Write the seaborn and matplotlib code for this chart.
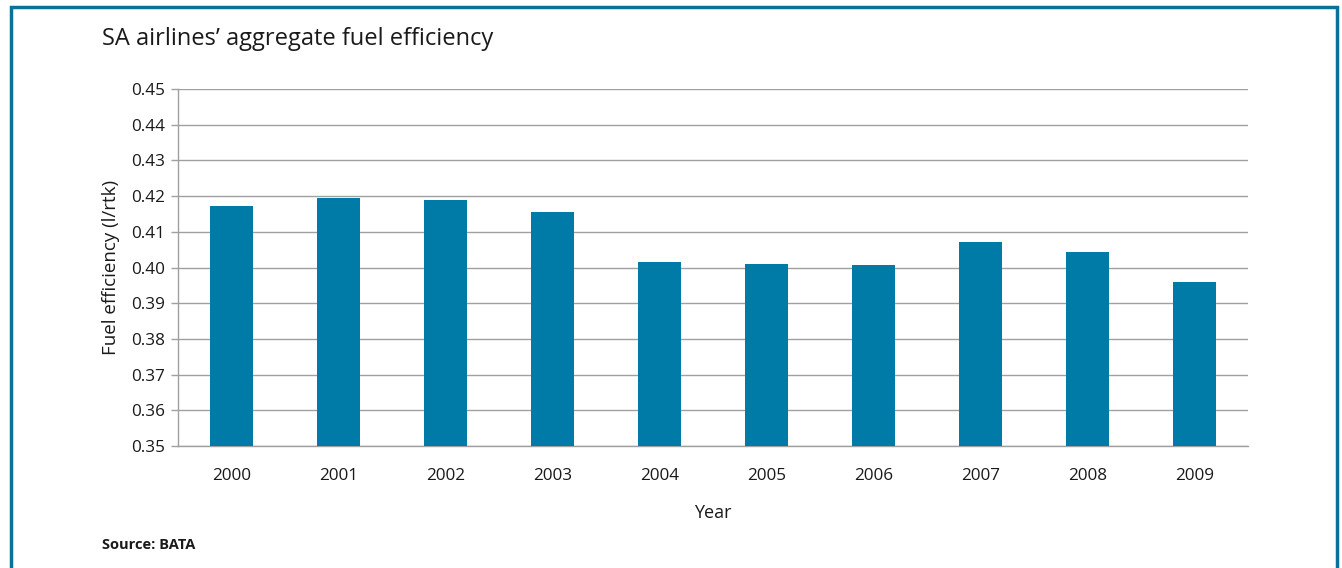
import matplotlib
matplotlib.use("Agg")
import matplotlib.pyplot as plt
from matplotlib.patches import Rectangle
from matplotlib.ticker import MultipleLocator, FixedLocator
import numpy as np
import pandas as pd
import seaborn as sns

years = ["2000", "2001", "2002", "2003", "2004", "2005", "2006", "2007", "2008", "2009"]
efficiency = [0.4172, 0.4195, 0.4189, 0.4155, 0.4015, 0.4010, 0.4007, 0.4071, 0.4043, 0.3959]

title = "SA airlines\u2019 aggregate fuel efficiency"
x_label = "Year"
y_label = "Fuel efficiency (l/rtk)"
source = "Source: BATA"

bar_color = "#007BA7"
frame_color = "#0A7199"
grid_color = "#A0A0A0"
text_color = "#1a1a1a"

sns.set_theme(style="white")
plt.rcParams["font.family"] = ["Open Sans", "DejaVu Sans"]

df = pd.DataFrame({"Year": years, "Efficiency": efficiency})

fig = plt.figure(figsize=(13.42, 5.68), dpi=100)
ax = fig.add_axes([178 / 1342, 1 - 446 / 568, (1248 - 178) / 1342, (446 - 89) / 568])

sns.barplot(data=df, x="Year", y="Efficiency", color=bar_color, saturation=1,
            width=0.41, linewidth=0, ax=ax, zorder=3)

ax.set_ylim(0.35, 0.45)
ax.set_xlim(-0.5, len(years) - 0.5)
ax.yaxis.set_major_locator(MultipleLocator(0.01))
ax.set_yticklabels([f"{v:.2f}" for v in ax.get_yticks()])
ax.grid(axis="y", color=grid_color, linewidth=1.0, zorder=0)
ax.set_axisbelow(True)

for side in ["top", "right"]:
    ax.spines[side].set_visible(False)
for side in ["left", "bottom"]:
    ax.spines[side].set_color(grid_color)
    ax.spines[side].set_linewidth(1.0)

ax.tick_params(axis="x", which="major", length=0, pad=16, labelsize=12.3, colors=text_color)
ax.xaxis.set_minor_locator(FixedLocator(np.arange(-0.5, len(years), 1.0)))
ax.tick_params(axis="x", which="minor", length=6, color=grid_color, width=1.0, direction="out")
ax.tick_params(axis="y", which="major", length=5, color=grid_color, width=1.0, labelsize=12.3,
               left=True, pad=4)
for lab in ax.get_yticklabels():
    lab.set_color(text_color)

ax.set_xlabel(x_label, fontsize=13, color=text_color, labelpad=14)
ax.set_ylabel(y_label, fontsize=13.5, color=text_color, labelpad=8)

fig.text(102 / 1342, 1 - 39 / 568, title, fontsize=17, fontweight="medium", color=text_color,
         va="center", ha="left")
fig.text(102 / 1342, 1 - 545 / 568, source, fontsize=10.5, fontweight="bold", color=text_color,
         va="center", ha="left")

fig.patches.append(Rectangle((11 / 1342, -0.05), (1337 - 11) / 1342, 1.05 - 7 / 568,
                             transform=fig.transFigure, fill=False, edgecolor=frame_color,
                             linewidth=2.5))

fig.savefig("out.png", dpi=100)
